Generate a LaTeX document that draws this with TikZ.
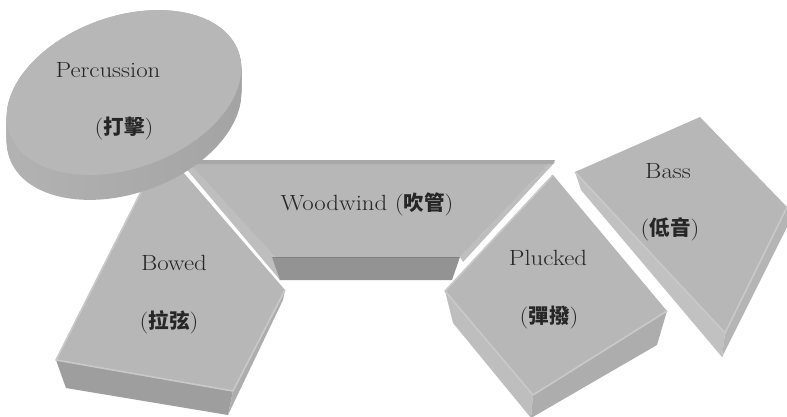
\documentclass[tikz,border=0pt]{standalone}
\usepackage{fontspec}
\newfontfamily\cjk{Noto Sans CJK TC}
\definecolor{topc}{HTML}{B7B7B7}
\definecolor{bevel}{HTML}{C9C9C9}
\definecolor{wwfront}{HTML}{939393}
\definecolor{bowfront}{HTML}{9E9E9E}
\definecolor{sidelight}{HTML}{BEBEBE}
\definecolor{sidemid}{HTML}{ADADAD}
\definecolor{backstrip}{HTML}{A8A8A8}
\definecolor{ellsideL}{HTML}{B3B3B3}
\definecolor{ellsideR}{HTML}{A3A3A3}
\newcommand\lab[1]{\scalebox{1.13}[1]{\fontsize{22}{26}\selectfont #1}}
\newcommand\zh[1]{{\cjk\bfseries\fontsize{20.5}{24}\selectfont #1}}
\tikzset{
  face/.style={fill=topc},
  bev/.style={draw=bevel, line width=1.6pt, line join=round},
  txt/.style={inner sep=0pt, text=black!85}
}
\begin{document}
\begin{tikzpicture}[x=1pt,y=-1pt]
\useasboundingbox (0,0) rectangle (787,417);
\fill[white] (0,0) rectangle (787,417);

% ---------- Bowed ----------
\fill[bowfront] (56,360) -- (233,391) -- (228,415) -- (66,388) -- cycle;
\fill[sidemid] (233,391) -- (285,290) -- (283,300) -- (228,415) -- cycle;
\fill[face] (149,176) -- (183,172) -- (285,290) -- (233,391) -- (56,360) -- cycle;
\draw[bev] (149,176) -- (56,360) -- (233,391) -- (285,290);

% ---------- Woodwind ----------
\fill[sidelight] (184,166) -- (191,163) -- (275,257) -- (280,280) -- cycle;
\fill[sidelight] (555,162) -- (463,262) -- (460,257) -- (549,164) -- cycle;
\fill[face] (190,163) -- (550,163) -- (460,257) -- (275,257) -- cycle;
\fill[backstrip] (185,160) -- (555,160) -- (553,164) -- (188,164) -- cycle;
\fill[wwfront] (272,257) -- (460,257) -- (452,280) -- (280,280) -- cycle;
\draw[draw=black!30!topc, line width=1pt] (273,257.5) -- (459,257.5);

% ---------- Plucked ----------
\fill[sidelight] (445,291) -- (533,395) -- (531,418) -- (453,323) -- cycle;
\fill[sidemid] (533,395) -- (667,311) -- (657,345) -- (531,418) -- cycle;
\fill[face] (553,175) -- (667,311) -- (533,395) -- (445,291) -- cycle;
\draw[bev] (553,175) -- (445,291) -- (533,395) -- (667,311);

% ---------- Bass ----------
\fill[sidelight!95!white] (575,172) -- (725,333) -- (722,357) -- (581,190) -- cycle;
\fill[sidemid!90!white] (725,333) -- (787,207) -- (787,227) -- (722,357) -- cycle;
\fill[face] (700,117) -- (787,207) -- (725,333) -- (575,172) -- cycle;
\draw[bev] (575,172) -- (725,333) -- (787,207);

% ---------- Percussion (disc) ----------
\foreach \d in {0,1,...,25}{
  \begin{scope}[shift={(124,{92.5+\d})}, rotate=19.6]
    \shade[left color=ellsideL, right color=ellsideR] (0,0) ellipse [x radius=121.5pt, y radius=76pt];
  \end{scope}
}
\begin{scope}[shift={(124,92.5)}, rotate=19.6]
  \fill[topc] (0,0) ellipse [x radius=121.5pt, y radius=76pt];
\end{scope}

% ---------- Labels ----------
\node[txt] (percA) at (108,70) {\lab{Percussion}};
\node[txt] (percB) at (124,128) {\lab{(}\zh{打擊}\lab{)}};
\node[txt] (bowA) at (174,263) {\lab{Bowed}};
\node[txt] (bowB) at (169,322) {\lab{(}\zh{拉弦}\lab{)}};
\node[txt] (wood) at (367,204) {\lab{Woodwind (}\zh{吹管}\lab{)}};
\node[txt] (pluA) at (548,258) {\lab{Plucked}};
\node[txt] (pluB) at (549,317) {\lab{(}\zh{彈撥}\lab{)}};
\node[txt] (bassA) at (668,171) {\lab{Bass}};
\node[txt] (bassB) at (670,229) {\lab{(}\zh{低音}\lab{)}};
\end{tikzpicture}
\end{document}
